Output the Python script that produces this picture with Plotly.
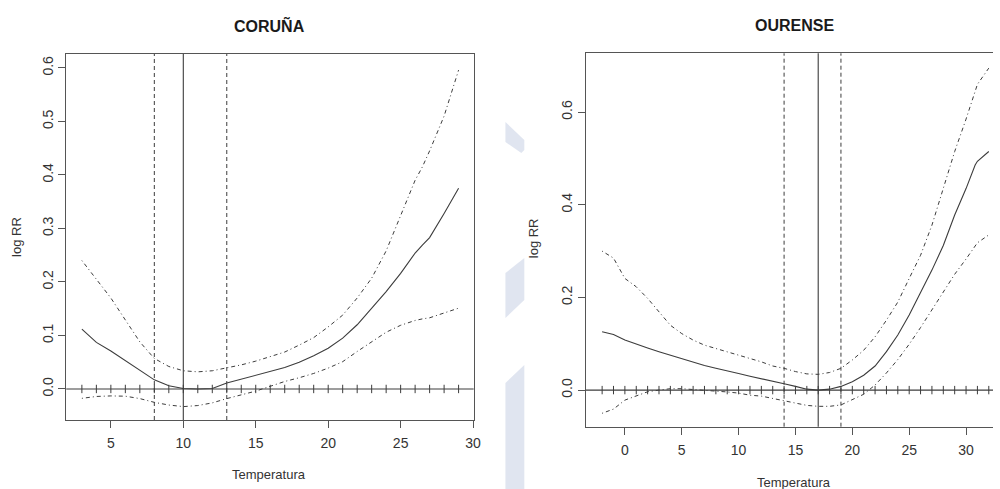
import plotly.graph_objects as go

W, H = 1000, 489

# ---------------- data ----------------
coruna_temp = [3, 4, 5, 6, 7, 8, 9, 10, 11, 12, 13, 14, 15, 16, 17, 18, 19, 20,
               21, 22, 23, 24, 25, 26, 26.5, 27, 28, 29]
coruna_est = [0.112, 0.087, 0.071, 0.053, 0.0355, 0.017, 0.006, 0.001, 0.0, 0.001,
              0.011, 0.018, 0.025, 0.032, 0.040, 0.050, 0.062, 0.076, 0.095, 0.120,
              0.150, 0.182, 0.216, 0.254, 0.269, 0.283, 0.328, 0.375]
coruna_up = [0.240, 0.205, 0.170, 0.129, 0.088, 0.057, 0.042, 0.034, 0.032, 0.034,
             0.039, 0.045, 0.052, 0.060, 0.069, 0.082, 0.096, 0.116, 0.138, 0.170,
             0.207, 0.258, 0.325, 0.390, 0.415, 0.445, 0.510, 0.596]
coruna_lo = [-0.0175, -0.014, -0.013, -0.0135, -0.018, -0.025, -0.030, -0.033, -0.031,
             -0.026, -0.018, -0.011, -0.004, 0.005, 0.014, 0.021, 0.029, 0.039, 0.051,
             0.070, 0.088, 0.106, 0.119, 0.128, 0.131, 0.133, 0.142, 0.151]
coruna_mmt = 10
coruna_ci = [8, 13]
coruna_rug = list(range(3, 30))

ourense_temp = [-2, -1, 0, 1, 2, 3, 4, 5, 6, 7, 8, 9, 10, 11, 12, 13, 14, 15, 16, 17,
                18, 19, 20, 21, 22, 23, 24, 25, 26, 27, 28, 29, 30, 30.8, 31, 32]
ourense_est = [0.126, 0.120, 0.108, 0.099, 0.091, 0.083, 0.0755, 0.067, 0.060, 0.053,
               0.047, 0.042, 0.036, 0.030, 0.024, 0.019, 0.0136, 0.008, 0.002, 0.0,
               0.002, 0.008, 0.018, 0.032, 0.052, 0.083, 0.119, 0.162, 0.209, 0.259,
               0.312, 0.378, 0.435, 0.486, 0.494, 0.515]
ourense_up = [0.300, 0.285, 0.241, 0.223, 0.198, 0.169, 0.140, 0.122, 0.108, 0.097,
              0.090, 0.083, 0.0755, 0.068, 0.061, 0.052, 0.047, 0.040, 0.035, 0.034,
              0.038, 0.047, 0.065, 0.086, 0.115, 0.151, 0.190, 0.241, 0.291, 0.356,
              0.436, 0.515, 0.585, 0.648, 0.660, 0.695]
ourense_lo = [-0.050, -0.041, -0.0216, -0.012, -0.0036, 0.0, 0.003, 0.003, 0.0015, 0.0,
              -0.002, -0.004, -0.0065, -0.011, -0.013, -0.018, -0.024, -0.029, -0.033,
              -0.035, -0.035, -0.032, -0.021, -0.009, 0.011, 0.037, 0.066, 0.099, 0.135,
              0.174, 0.212, 0.250, 0.283, 0.312, 0.318, 0.335]
ourense_mmt = 17
ourense_ci = [14, 19]
ourense_rug = list(range(-2, 33))

titles = ["CORUÑA", "OURENSE"]
xlabel = "Temperatura"
ylabel = "log RR"
coruna_xticks = [5, 10, 15, 20, 25, 30]
coruna_yticks = [0.0, 0.1, 0.2, 0.3, 0.4, 0.5, 0.6]
ourense_xticks = [0, 5, 10, 15, 20, 25, 30]
ourense_yticks = [0.0, 0.2, 0.4, 0.6]

# ---------------- style ----------------
LC = "#3c3c3c"
AX = "#555555"
FONT = "Liberation Sans, Arial, sans-serif"
DASHDOT = "1px,3px,4px,3px"
DASH = "4px,3px"


def px(x):
    return x / W


def py(y):
    return 1 - y / H


fig = go.Figure()


def add_panel(xa, ya, temp, est, up, lo, rug):
    fig.add_trace(go.Scatter(x=temp, y=up, mode="lines", xaxis=xa, yaxis=ya,
                             line=dict(color=LC, width=1, dash=DASHDOT), hoverinfo="skip"))
    fig.add_trace(go.Scatter(x=temp, y=lo, mode="lines", xaxis=xa, yaxis=ya,
                             line=dict(color=LC, width=1, dash=DASHDOT), hoverinfo="skip"))
    fig.add_trace(go.Scatter(x=temp, y=est, mode="lines", xaxis=xa, yaxis=ya,
                             line=dict(color=LC, width=1.1), hoverinfo="skip"))
    fig.add_trace(go.Scatter(x=rug, y=[0] * len(rug), mode="markers", xaxis=xa, yaxis=ya,
                             marker=dict(symbol="line-ns-open", size=6, color=LC,
                                         line=dict(color=LC, width=1)),
                             hoverinfo="skip"))


add_panel("x", "y", coruna_temp, coruna_est, coruna_up, coruna_lo, coruna_rug)
add_panel("x2", "y2", ourense_temp, ourense_est, ourense_up, ourense_lo, ourense_rug)

shapes = []
# faint background watermark
WM = "rgba(214,220,235,0.75)"
wm_polys = [
    [(509, 122), (528, 140), (528, 150), (525, 153), (509, 142)],
    [(509, 273), (528, 258), (528, 300), (509, 318)],
    [(509, 383), (528, 365), (528, 489), (509, 489)],
]
for poly in wm_polys:
    path = "M " + " L ".join(f"{px(a):.4f},{py(b):.4f}" for a, b in poly) + " Z"
    shapes.append(dict(type="path", path=path, xref="paper", yref="paper",
                       fillcolor=WM, line=dict(width=0), layer="below"))

for xa, ya, mmt, ci in [("x", "y", coruna_mmt, coruna_ci), ("x2", "y2", ourense_mmt, ourense_ci)]:
    dom = "x domain" if xa == "x" else "x2 domain"
    ydom = "y domain" if ya == "y" else "y2 domain"
    shapes.append(dict(type="line", xref=dom, yref=ya, x0=0, x1=1, y0=0, y1=0,
                       line=dict(color=LC, width=1.1)))
    shapes.append(dict(type="line", xref=xa, yref=ydom, x0=mmt, x1=mmt, y0=0, y1=1,
                       line=dict(color=LC, width=1.1)))
    for c in ci:
        shapes.append(dict(type="line", xref=xa, yref=ydom, x0=c, x1=c, y0=0, y1=1,
                           line=dict(color=LC, width=1, dash=DASH)))

axis_common = dict(showgrid=False, zeroline=False, showline=True, linecolor=AX, linewidth=1,
                   ticks="outside", ticklen=7, tickcolor=AX, tickwidth=1,
                   tickfont=dict(family=FONT, size=14, color="#333333"))

annotations = []
for t, cx in zip(titles, [271, 800]):
    annotations.append(dict(text=f"<b>{t}</b>", x=px(cx), y=py(25), xref="paper", yref="paper",
                            showarrow=False, font=dict(family=FONT, size=16, color="#1a1a1a"),
                            xanchor="center", yanchor="middle"))
for cx, cy in [(271, 474), (800, 482)]:
    annotations.append(dict(text=xlabel, x=px(cx), y=py(cy), xref="paper", yref="paper",
                            showarrow=False, font=dict(family=FONT, size=13, color="#333333"),
                            xanchor="center", yanchor="middle"))
for cx, cy in [(16, 237), (538, 238)]:
    annotations.append(dict(text=ylabel, x=px(cx), y=py(cy), xref="paper", yref="paper",
                            showarrow=False, textangle=-90,
                            font=dict(family=FONT, size=13, color="#333333"),
                            xanchor="center", yanchor="middle"))

fig.update_layout(
    width=W, height=H, margin=dict(l=0, r=0, t=0, b=0),
    paper_bgcolor="white", plot_bgcolor="rgba(0,0,0,0)", showlegend=False,
    xaxis=dict(domain=[px(66.7), px(477)], range=[1.92, 30.04], anchor="y", mirror=True,
               tickvals=coruna_xticks, ticklabelstandoff=3, **axis_common),
    yaxis=dict(domain=[py(420), py(54)], range=[-0.058, 0.626], anchor="x", mirror=True,
               tickvals=coruna_yticks, ticktext=[f"{v:.1f}" for v in coruna_yticks],
               tickangle=-90, **axis_common),
    xaxis2=dict(domain=[px(590), 1.0], range=[-3.43, 32.37], anchor="y2", mirror=True,
                tickvals=ourense_xticks, ticklabelstandoff=3, **axis_common),
    yaxis2=dict(domain=[py(426.7), py(53.3)], range=[-0.079, 0.727], anchor="x2", mirror=False,
                tickvals=ourense_yticks, ticktext=[f"{v:.1f}" for v in ourense_yticks],
                tickangle=-90, **axis_common),
    shapes=shapes, annotations=annotations,
)

fig.write_html("out.html")
